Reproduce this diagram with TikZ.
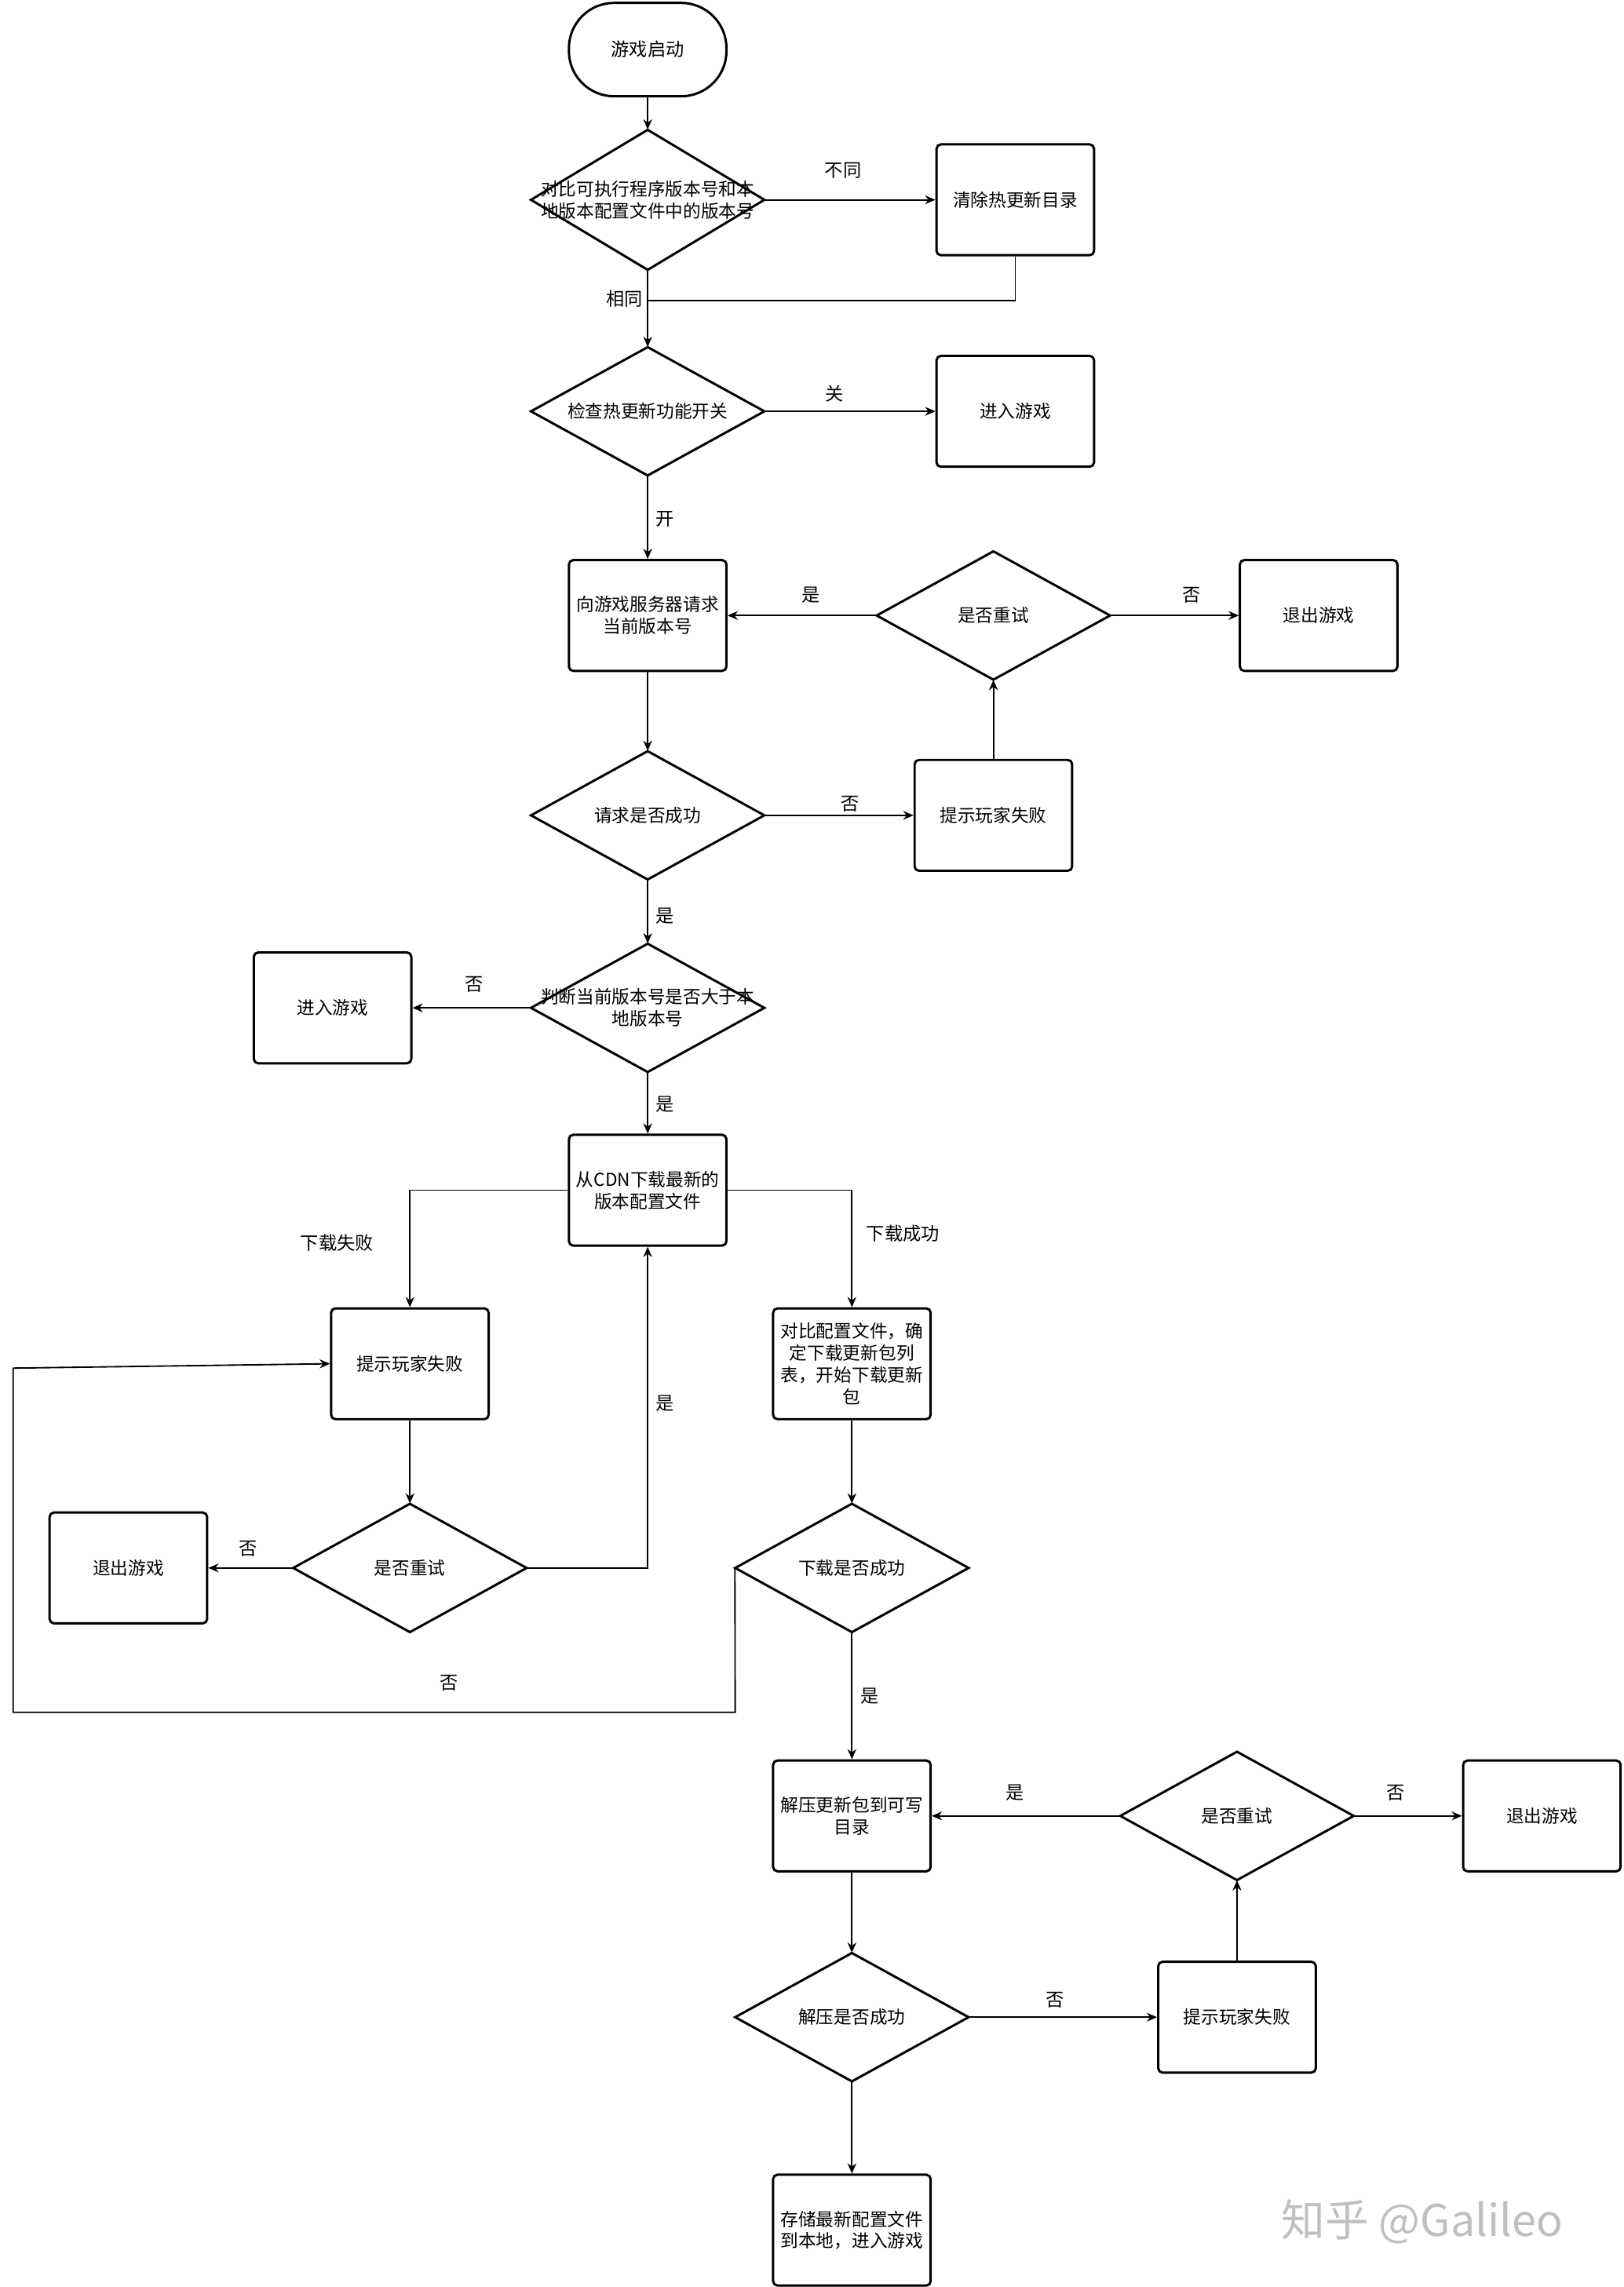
\documentclass[tikz,border=0pt]{standalone}
\usepackage{fontspec}
\usetikzlibrary{arrows.meta}
\setmainfont{Noto Sans CJK SC}
\setlength\parindent{0pt}
\begin{document}
\begin{tikzpicture}[x=1pt,y=-1pt,
  box/.style={draw,line width=1.6pt,rounded corners=3pt,minimum width=108pt,minimum height=76pt,align=center,inner sep=1pt,font=\fontsize{12.2}{15}\selectfont},
  lab/.style={font=\fontsize{12.5}{15}\selectfont},
  ln/.style={line width=1pt,-{Stealth[length=7pt,width=6pt]}},
  pl/.style={line width=1pt}]
\useasboundingbox (0,0) rectangle (1113,1568);
\newcommand{\dia}[6]{%
  \draw[line width=1.6pt] (#2-#4/2,#3)--(#2,#3-#5/2)--(#2+#4/2,#3)--(#2,#3+#5/2)--cycle;
  \node[minimum width=#4pt,minimum height=#5pt,inner sep=0,align=center,font=\fontsize{12.2}{15}\selectfont] (#1) at (#2,#3) {#6};}
\node[draw,line width=1.6pt,rounded corners=31pt,minimum width=108pt,minimum height=64pt,font=\fontsize{12.5}{15}\selectfont] (s) at (444,34) {游戏启动};
\dia{d1}{444}{137}{160}{96}{对比可执行程序版本号和本\\地版本配置文件中的版本号}
\node[box] (b1) at (696,137) {清除热更新目录};
\dia{d2}{444}{282}{160}{88}{检查热更新功能开关}
\node[box] (b2) at (696,282) {进入游戏};
\node[box] (b3) at (444,422) {向游戏服务器请求\\当前版本号};
\dia{d3}{681}{422}{160}{88}{是否重试}
\node[box] (b4) at (904,422) {退出游戏};
\dia{d4}{444}{559}{160}{88}{请求是否成功}
\node[box] (b5) at (681,559) {提示玩家失败};
\dia{d5}{444}{691}{160}{88}{判断当前版本号是否大于本\\地版本号}
\node[box] (b6) at (228,691) {进入游戏};
\node[box] (b7) at (444,816) {从CDN下载最新的\\版本配置文件};
\node[box] (b8) at (281,935) {提示玩家失败};
\node[box] (b9) at (584,935) {对比配置文件，确\\定下载更新包列\\表，开始下载更新\\包};
\dia{d6}{281}{1075}{160}{88}{是否重试}
\node[box] (b10) at (88,1075) {退出游戏};
\dia{d7}{584}{1075}{160}{88}{下载是否成功}
\node[box] (b11) at (584,1245) {解压更新包到可写\\目录};
\dia{d8}{848}{1245}{160}{88}{是否重试}
\node[box] (b12) at (1057,1245) {退出游戏};
\dia{d9}{584}{1383}{160}{88}{解压是否成功}
\node[box] (b13) at (848,1383) {提示玩家失败};
\node[box] (b14) at (584,1529) {存储最新配置文件\\到本地，进入游戏};
\coordinate (j1) at (444,206);
\draw[ln] (s)--(d1);
\draw[ln] (d1)--(b1);
\draw[pl] (b1.south)|-(j1);
\draw[ln] (d1.south)--(d2.north);
\draw[ln] (d2)--(b2);
\draw[ln] (d2)--(b3);
\draw[ln] (d3)--(b3);
\draw[ln] (d3)--(b4);
\draw[ln] (b3)--(d4);
\draw[ln] (d4)--(b5);
\draw[ln] (b5)--(d3);
\draw[ln] (d4)--(d5);
\draw[ln] (d5)--(b6);
\draw[ln] (d5)--(b7);
\draw[ln] (b7.west)-|(b8.north);
\draw[ln] (b7.east)-|(b9.north);
\draw[ln] (b8)--(d6);
\draw[ln] (d6)--(b10);
\draw[ln] (d6.east)-|(b7.south);
\draw[ln] (b9)--(d7);
\draw[ln] (d7.west)--(504,1174)--(9,1174)--(9,938)--(b8.west);
\draw[ln] (d7)--(b11);
\draw[ln] (d8)--(b11);
\draw[ln] (d8)--(b12);
\draw[ln] (b11)--(d9);
\draw[ln] (d9)--(b13);
\draw[ln] (b13)--(d8);
\draw[ln] (d9)--(b14);
\node[lab] (t1) at (578,117) {不同};
\node[lab] (t2) at (428,205) {相同};
\node[lab] (t3) at (572,270) {关};
\node[lab] (t4) at (456,356) {开};
\node[lab] (t5) at (556,408) {是};
\node[lab] (t6) at (817,408) {否};
\node[lab] (t7) at (583,551) {否};
\node[lab] (t8) at (456,628) {是};
\node[lab] (t9) at (325,675) {否};
\node[lab] (t10) at (456,757) {是};
\node[lab] (t11) at (231,852) {下载失败};
\node[lab] (t12) at (619,846) {下载成功};
\node[lab] (t13) at (456,962) {是};
\node[lab] (t14) at (170,1062) {否};
\node[lab] (t15) at (308,1154) {否};
\node[lab] (t16) at (596,1163) {是};
\node[lab] (t17) at (696,1229) {是};
\node[lab] (t18) at (957,1229) {否};
\node[lab] (t19) at (723,1371) {否};
\node[font=\fontsize{30}{34}\selectfont,text=black!25] (wm) at (975,1523) {知乎 @Galileo};
\end{tikzpicture}
\end{document}
